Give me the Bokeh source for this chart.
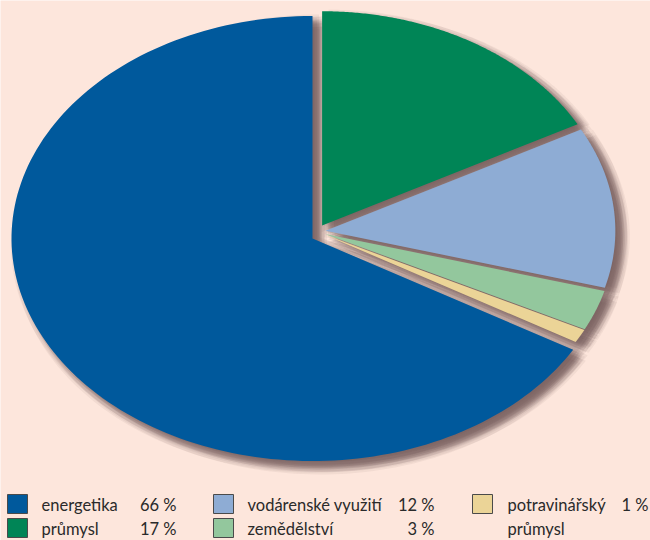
import numpy as np
from bokeh.plotting import figure
from bokeh.models import Range1d
from bokeh.core.properties import value
from bokeh.embed import file_html
from bokeh.resources import INLINE

# ---- data ----
categories = ["energetika", "průmysl", "vodárenské využití", "zemědělství", "potravinářský průmysl"]
values = [66, 17, 12, 3, 1]
colors = ["#00599c", "#008556", "#8eacd4", "#93c79d", "#ebd497"]
legend_lines = [["energetika"], ["průmysl"], ["vodárenské využití"], ["zemědělství"], ["potravinářský", "průmysl"]]
pct_labels = ["66 %", "17 %", "12 %", "3 %", "1 %"]

BG = "#fde6dc"
W, H = 650, 540
p = figure(width=W, height=H, x_range=Range1d(0, W), y_range=Range1d(H, 0),
           output_backend="svg", toolbar_location=None, min_border=0)
p.axis.visible = False
p.grid.visible = False
p.outline_line_color = None
p.background_fill_color = BG
p.border_fill_color = BG

CX, CY = 312, 238
RX, RY = 301, 222.5
SC = 0.963
total = float(sum(values))
spans = [v / total * 360.0 for v in values]


def wedge(cx, cy, rx, ry, t0, t1, n=160):
    ts = np.radians(np.linspace(t0, t1, n))
    xs = [cx] + list(cx + rx * np.cos(ts))
    ys = [cy] + list(cy - ry * np.sin(ts))
    return xs, ys


polys = []
# first slice: counterclockwise from 12 o'clock
polys.append(wedge(CX, CY, RX, RY, 90, 90 + spans[0]))
a = 90.0
for s in spans[1:]:
    t0, t1 = a, a - s
    mid = np.radians((t0 + t1) / 2)
    cx = CX + 6 + 7 * np.cos(mid)
    cy = CY - 7 - 7 * np.sin(mid)
    polys.append(wedge(cx, cy, RX * SC, RY * SC, t0, t1))
    a -= s

# blurred shadow
sx, sy = [], []
offs = [(0.0, 0.0)]
for r in (2.5, 5.0, 7.5):
    for k in range(8):
        ang = k * np.pi / 4 + (r / 5.0)
        offs.append((r * np.cos(ang), r * np.sin(ang)))
for xs, ys in polys:
    for ox, oy in offs:
        sx.append([x + 7 + ox for x in xs])
        sy.append([y + 6 + oy for y in ys])
p.patches(sx, sy, fill_color="#6f5f5a", fill_alpha=0.08, line_color=None)

p.patches([q[0] for q in polys], [q[1] for q in polys], fill_color=colors, line_color=None)

# ---- legend ----
col_sq = [7, 213, 472]
col_lab = [41, 247, 507]
col_pct = [176, 434, 648]
row_top = [494, 518]
row_mid = [504, 528]
sq_w, sq_h = 20, 19

ql, qr, qt, qb, qc = [], [], [], [], []
tx, ty, tt = [], [], []
px, py, pt = [], [], []
for i, cat in enumerate(categories):
    col, row = i // 2, i % 2
    ql.append(col_sq[col]); qr.append(col_sq[col] + sq_w)
    qt.append(row_top[row]); qb.append(row_top[row] + sq_h)
    qc.append(colors[i])
    for j, line in enumerate(legend_lines[i]):
        tx.append(col_lab[col]); ty.append(row_mid[row + j]); tt.append(line)
    px.append(col_pct[col]); py.append(row_mid[row]); pt.append(pct_labels[i])

p.quad(left=ql, right=qr, top=qt, bottom=qb, fill_color=qc, line_color="#4a4a4a", line_width=1)
p.text(tx, ty, text=tt, text_font=value("Lato"), text_font_size="16.5px",
       text_color="#2a2a2a", text_baseline="middle", text_align="left")
p.text(px, py, text=pt, text_font=value("Lato"), text_font_size="16.5px",
       text_color="#2a2a2a", text_baseline="middle", text_align="right")

open("out.html", "w").write(file_html(p, INLINE))
